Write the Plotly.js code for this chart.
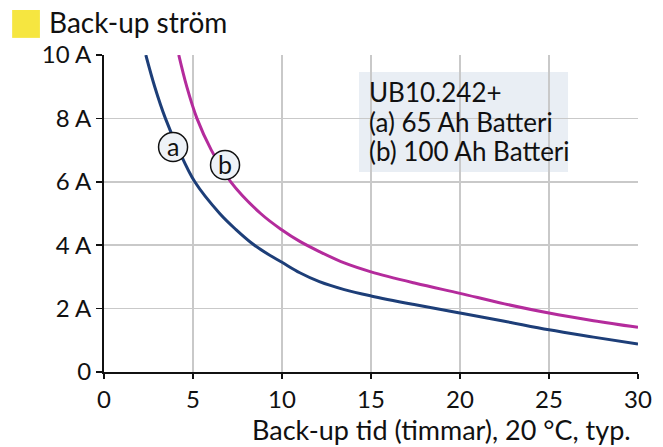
<!DOCTYPE html>
<html><head><meta charset="utf-8">
<script src="https://cdn.plot.ly/plotly-3.0.1.min.js"></script>
<style>html,body{margin:0;padding:0;background:#fff}#c{width:663px;height:447px}</style>
</head><body><div id="c"></div>
<script>
const xA = [2.35, 2.85, 3.45, 4.2, 5.1, 6.5, 7.4, 8.4, 9.2, 10, 11, 12.1, 13.5, 15, 17.5, 20, 22.5, 25, 27.5, 30];
const yA = [10, 9, 8, 7, 6, 5, 4.5, 4.02, 3.72, 3.46, 3.13, 2.85, 2.6, 2.4, 2.12, 1.86, 1.6, 1.33, 1.1, 0.88];
const xB = [4.2, 4.65, 5.22, 6.03, 7.12, 8.8, 10, 11, 12.1, 13.5, 15, 17.5, 20, 22.5, 25, 27.5, 30];
const yB = [10, 9, 8, 7, 6, 5, 4.48, 4.12, 3.8, 3.44, 3.16, 2.8, 2.48, 2.15, 1.86, 1.62, 1.41];
const xTicks = [0, 5, 10, 15, 20, 25, 30];
const yTicks = [0, 2, 4, 6, 8, 10];
const yTickText = ['0', '2 A', '4 A', '6 A', '8 A', '10 A'];
const curveLabels = ['a', 'b'];
const labelX = [3.88, 6.8];
const labelY = [7.1, 6.53];
const boxLines = ['UB10.242+', '(a) 65 Ah Batteri', '(b) 100 Ah Batteri'];
const titleText = 'Back-up ström';
const xTitle = 'Back-up tid (timmar), 20 °C, typ.';

const FONT = 'Lato, "Open Sans", sans-serif';
const traces = [
  {x: xA, y: yA, mode: 'lines', line: {color: '#1d3e78', width: 3, shape: 'spline', smoothing: 1}, hoverinfo: 'skip'},
  {x: xB, y: yB, mode: 'lines', line: {color: '#b42b9c', width: 3, shape: 'spline', smoothing: 1}, hoverinfo: 'skip'}
];
const shapes = [
  {type: 'rect', xref: 'paper', yref: 'paper', x0: -0.172, x1: -0.12, y0: 1.054, y1: 1.142, fillcolor: '#f6e640', line: {width: 0}},
  {type: 'rect', xref: 'paper', yref: 'paper', x0: 0.4775, x1: 0.869, y0: 0.631, y1: 0.946, fillcolor: '#e9eef4', line: {width: 0}, layer: 'below'}
];
const annotations = [];
curveLabels.forEach((t, i) => {
  shapes.push({type: 'circle', xref: 'x', yref: 'y', xsizemode: 'pixel', ysizemode: 'pixel',
    xanchor: labelX[i], yanchor: labelY[i], x0: -14.5, x1: 14.5, y0: -14.5, y1: 14.5,
    fillcolor: '#eef2f7', line: {color: '#111', width: 1.5}});
  annotations.push({x: labelX[i], y: labelY[i], xref: 'x', yref: 'y', text: t, showarrow: false,
    font: {family: FONT, size: 25, color: '#111'}, yshift: 1});
});
annotations.push({xref: 'paper', yref: 'paper', x: -0.107, y: 1.104, xanchor: 'left', yanchor: 'middle',
  text: titleText, showarrow: false, font: {family: FONT, size: 28, color: '#111'}});
annotations.push({xref: 'paper', yref: 'paper', x: 0.9906, y: -0.18, xanchor: 'right', yanchor: 'middle',
  text: xTitle, showarrow: false, font: {family: FONT, size: 27, color: '#111'}});
const boxY = [0.883, 0.789, 0.697];
boxLines.forEach((t, i) => {
  annotations.push({xref: 'paper', yref: 'paper', x: 0.492, y: boxY[i], xanchor: 'left', yanchor: 'middle',
    text: t, showarrow: false, font: {family: FONT, size: 26, color: '#111'}});
});

const layout = {
  width: 663, height: 447,
  margin: {l: 104, r: 25, t: 55, b: 75},
  paper_bgcolor: '#fff', plot_bgcolor: '#fff',
  showlegend: false,
  font: {family: FONT, color: '#111'},
  xaxis: {range: [0, 30], tickvals: xTicks, showgrid: true, gridcolor: '#c9c9c9', gridwidth: 1.5,
    zeroline: false, showline: true, linecolor: '#111', linewidth: 2, ticks: 'outside', ticklen: 5, tickwidth: 1.5,
    tickcolor: '#111', tickfont: {family: FONT, size: 24, color: '#111'}, fixedrange: true},
  yaxis: {range: [0, 10], tickvals: yTicks, ticktext: yTickText, showgrid: true, gridcolor: '#c9c9c9', gridwidth: 1.5,
    zeroline: false, showline: true, linecolor: '#111', linewidth: 2, ticks: 'outside', ticklen: 6, tickwidth: 1.5,
    tickcolor: '#111', tickfont: {family: FONT, size: 24, color: '#111'}, fixedrange: true},
  shapes: shapes, annotations: annotations
};
Plotly.newPlot('c', traces, layout, {displayModeBar: false, staticPlot: true});
</script></body></html>
